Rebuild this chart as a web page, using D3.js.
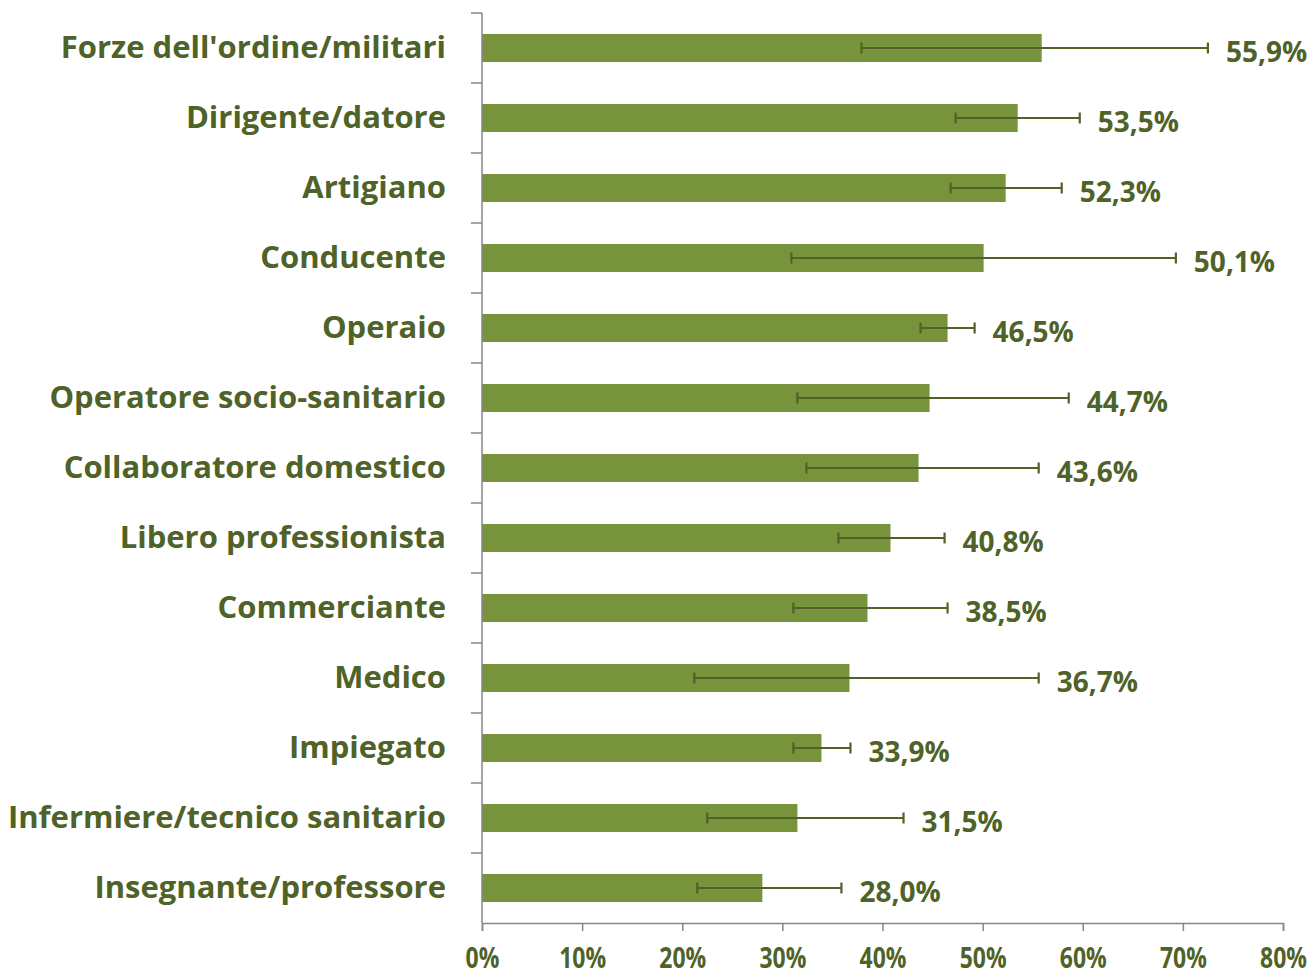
<!DOCTYPE html>
<html>
<head>
<meta charset="utf-8">
<script src="https://cdn.jsdelivr.net/npm/d3@7"></script>
<style>
  body { margin: 0; background: #fff; }
  text { font-family: "Open Sans", sans-serif; font-weight: bold; fill: #4F6228; }
</style>
</head>
<body>
<svg id="mainsvg" width="1311" height="976"></svg>
<script>
// categories top to bottom
const categories = ["Forze dell'ordine/militari", "Dirigente/datore", "Artigiano", "Conducente",
  "Operaio", "Operatore socio-sanitario", "Collaboratore domestico", "Libero professionista",
  "Commerciante", "Medico", "Impiegato", "Infermiere/tecnico sanitario", "Insegnante/professore"];
const values = [55.9, 53.5, 52.3, 50.1, 46.5, 44.7, 43.6, 40.8, 38.5, 36.7, 33.9, 31.5, 28.0];
const errLow = [37.9, 47.3, 46.8, 30.9, 43.8, 31.5, 32.4, 35.6, 31.1, 21.2, 31.1, 22.5, 21.5];
const errHigh = [72.5, 59.7, 57.9, 69.3, 49.2, 58.6, 55.6, 46.2, 46.5, 55.6, 36.8, 42.1, 35.9];
const xTicks = [0, 10, 20, 30, 40, 50, 60, 70, 80];

let svg = d3.select('#mainsvg');
const margin = {left: 482, right: 28, top: 13, bottom: 53};
var width = +svg.attr('width'), height = +svg.attr('height');
const innerW = width - margin.left - margin.right;
const innerH = height - margin.top - margin.bottom;

const data = categories.map((c, i) => ({cat: c, v: values[i], lo: errLow[i], hi: errHigh[i]}));

let x = d3.scaleLinear().domain([0, 80]).range([0, innerW]);
let y = d3.scaleBand().domain(categories).range([0, innerH]).paddingInner(0.6).paddingOuter(0.3);
let band = d3.scaleBand().domain(categories).range([0, innerH]);

let g = svg.append('g').attr('transform', `translate(${margin.left},${margin.top})`);

// bars
g.selectAll('rect.bar').data(data).enter().append('rect')
  .attr('class', 'bar')
  .attr('x', 0)
  .attr('y', d => y(d.cat))
  .attr('width', d => x(d.v))
  .attr('height', y.bandwidth())
  .attr('fill', '#77933C');

// error bars
const errColor = '#4F6228';
let eb = g.selectAll('g.err').data(data).enter().append('g')
  .attr('class', 'err')
  .attr('transform', d => `translate(0,${y(d.cat) + y.bandwidth() / 2})`);
eb.append('line')
  .attr('x1', d => x(d.lo)).attr('x2', d => x(d.hi))
  .attr('stroke', errColor).attr('stroke-width', 2.2);
eb.append('line')
  .attr('x1', d => x(d.lo)).attr('x2', d => x(d.lo))
  .attr('y1', -5.5).attr('y2', 5.5)
  .attr('stroke', errColor).attr('stroke-width', 2.2);
eb.append('line')
  .attr('x1', d => x(d.hi)).attr('x2', d => x(d.hi))
  .attr('y1', -5.5).attr('y2', 5.5)
  .attr('stroke', errColor).attr('stroke-width', 2.2);

// value labels
g.selectAll('text.val').data(data).enter().append('text')
  .attr('class', 'val')
  .attr('x', d => x(Math.max(d.hi, d.v)) + 18)
  .attr('y', d => y(d.cat) + y.bandwidth() / 2 + 4)
  .attr('dy', '0.35em')
  .style('font-size', '28px')
  .text(d => d.v.toFixed(1).replace('.', ',') + '%');

// y axis
let yAxis = g.append('g')
  .call(d3.axisLeft(band).tickSize(0).tickPadding(36));
yAxis.select('.domain').remove();
yAxis.selectAll('text').style('font-size', '31px').attr('fill', '#4F6228').attr('dy', '0.32em');
g.append('line').attr('x1', 0).attr('x2', 0).attr('y1', 0).attr('y2', innerH)
  .attr('stroke', '#868686').attr('stroke-width', 1.5);
g.selectAll('line.ytick').data(d3.range(categories.length))
  .enter().append('line').attr('class', 'ytick')
  .attr('x1', -11).attr('x2', 0)
  .attr('y1', i => band.step() * i).attr('y2', i => band.step() * i)
  .attr('stroke', '#868686').attr('stroke-width', 1.5);

// x axis
let xAxis = g.append('g').attr('transform', `translate(0,${innerH})`)
  .call(d3.axisBottom(x).tickValues(xTicks).tickFormat(d => d + '%').tickSize(8).tickPadding(17));
xAxis.select('.domain').attr('stroke', '#868686').attr('stroke-width', 1.5);
xAxis.selectAll('.tick line').attr('stroke', '#868686').attr('stroke-width', 1.5);
xAxis.selectAll('.tick').each(function(d) {
  d3.select(this).select('text')
    .style('font-size', '28px').attr('fill', '#4F6228')
    .attr('transform', 'scale(0.82,1)');
});
</script>
</body>
</html>
